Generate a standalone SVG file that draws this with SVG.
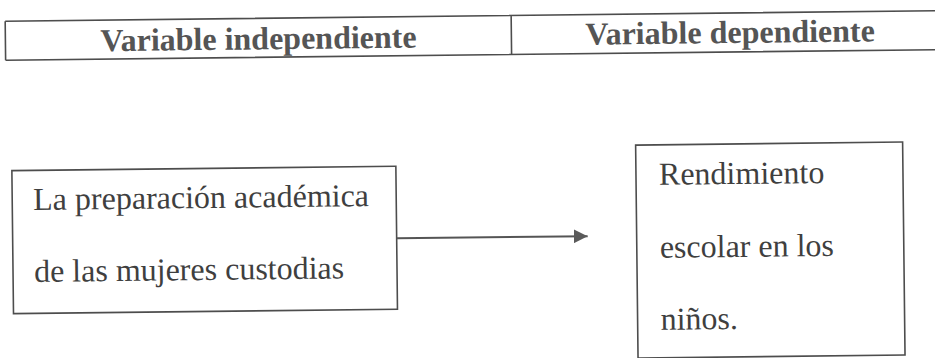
<svg xmlns="http://www.w3.org/2000/svg" width="935" height="358" viewBox="0 0 935 358">
  <style>
    .frame { fill: none; stroke: #4d4d4d; stroke-width: 1.6; }
    .hdr { font-family: "Liberation Serif", "Times New Roman", serif; font-size: 32px; font-weight: bold; fill: #555555; }
    .txt { font-family: "Liberation Serif", "Times New Roman", serif; font-size: 32px; fill: #3f3f3f; }
    .conn { stroke: #555555; stroke-width: 2; fill: none; }
  </style>
  <defs>
    <marker id="arrow" viewBox="0 0 14 14" refX="14" refY="7" markerWidth="14" markerHeight="14" markerUnits="userSpaceOnUse" orient="auto">
      <path d="M0,0 L14,7 L0,14 Z" fill="#5a5a5a"/>
    </marker>
  </defs>
  <rect width="935" height="358" fill="#ffffff"/>
  <g transform="rotate(-0.65 467 179)">
    <g id="header">
      <path class="frame" d="M7,16 H940 M7,55 H940 M7,16 V55 M513,16 V55"/>
      <text class="hdr" x="102" y="47">Variable independiente</text>
      <text class="hdr" x="587" y="46">Variable dependiente</text>
    </g>
    <g id="node-independiente">
      <rect class="frame" x="12" y="165.5" width="384" height="143"/>
      <text class="txt" x="33" y="205">La preparación académica</text>
      <text class="txt" x="33" y="277">de las mujeres custodias</text>
    </g>
    <g id="node-dependiente">
      <rect class="frame" x="636" y="147" width="267" height="213"/>
      <text class="txt" x="659" y="187">Rendimiento</text>
      <text class="txt" x="659" y="260">escolar en los</text>
      <text class="txt" x="659" y="332">niños.</text>
    </g>
    <g id="connectors">
      <line class="conn" x1="396" y1="237.5" x2="587" y2="237.5" marker-end="url(#arrow)"/>
    </g>
  </g>
</svg>
